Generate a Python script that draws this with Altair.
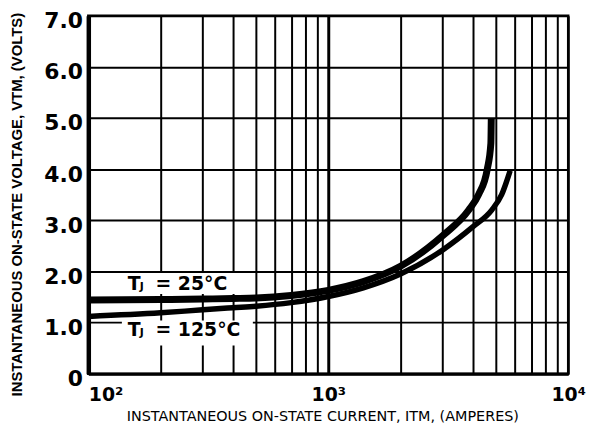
import altair as alt
import pandas as pd

# ---- data ----
current_25 = [100, 200, 300, 400, 500, 700, 1000, 1400, 2000, 3000, 3850, 4230, 4600, 4760, 4780]
voltage_25 = [1.44, 1.45, 1.46, 1.47, 1.48, 1.53, 1.63, 1.80, 2.10, 2.70, 3.20, 3.50, 4.00, 4.50, 5.00]

current_125 = [100, 200, 300, 400, 500, 700, 1000, 1400, 2000, 3000, 4000, 4800, 5280, 5730]
voltage_125 = [1.12, 1.19, 1.25, 1.29, 1.32, 1.39, 1.51, 1.68, 1.95, 2.42, 2.87, 3.20, 3.50, 3.97]

x_grid = [100, 200, 300, 400, 500, 600, 700, 800, 900,
          1000, 2000, 3000, 4000, 5000, 6000, 7000, 8000, 9000, 10000]
y_grid = [0, 0.5, 1, 1.5, 2, 2.5, 3, 3.5, 4, 4.5, 5, 5.5, 6, 6.5, 7]

label_rest = ["= 25°C", "= 125°C"]
label_x = [146, 146]
label_y = [1.63, 0.74]

box_x1 = [105, 138]
box_x2 = [485, 485]
box_y1 = [1.56, 0.55]
box_y2 = [1.97, 1.04]

x_title = "INSTANTANEOUS ON-STATE CURRENT, ITM, (AMPERES)"
y_title = "INSTANTANEOUS ON-STATE VOLTAGE, VTM, (VOLTS)"

# ---- tables ----
curves = pd.concat([
    pd.DataFrame({"I": current_25, "V": voltage_25, "Tj": "25"}),
    pd.DataFrame({"I": current_125, "V": voltage_125, "Tj": "125"}),
])
labels = pd.DataFrame({"rest": label_rest, "I": label_x, "V": label_y})
boxes = pd.DataFrame({"x1": box_x1, "x2": box_x2, "y1": box_y1, "y2": box_y2})

xscale = alt.Scale(type="log", domain=[100, 10000], nice=False)
yscale = alt.Scale(domain=[0, 7], nice=False, zero=False)

x_axis = alt.Axis(
    values=x_grid, grid=True, gridColor="black", gridOpacity=1,
    gridWidth={"condition": {"test": "datum.value == 1000", "value": 3}, "value": 2},
    ticks=False, domain=True, domainColor="black", domainWidth=3,
    labelExpr="datum.value == 100 ? '10²' : datum.value == 1000 ? '10³' : datum.value == 10000 ? '10⁴' : ''",
    labelFont="DejaVu Sans", labelFontWeight="bold", labelFontSize=19, labelColor="black",
    labelPadding=12, labelOverlap=False, labelFlush=False,
    labelAlign={"condition": {"test": "datum.value <= 100", "value": "left"}, "value": "center"},
    title=x_title, titleFont="DejaVu Sans", titleFontSize=14.5, titleFontWeight="normal",
    titleColor="black", titleX=236, titleY=43, titleBaseline="middle", titleAlign="center",
    titleAnchor="start",
)
y_axis = alt.Axis(
    values=y_grid, grid=True, gridColor="black", gridOpacity=1, gridWidth=2,
    ticks=False, domain=True, domainColor="black", domainWidth=4.5,
    labelExpr="datum.value % 1 == 0 ? (datum.value == 0 ? '0' : format(datum.value, '.1f')) : ''",
    labelFont="DejaVu Sans", labelFontWeight="bold", labelFontSize=22, labelColor="black",
    labelPadding=6, labelOverlap=False, labelFlush=False, labelOffset=5,
    labelBaseline="middle",
    title=y_title, titleFont="Liberation Sans", titleFontSize=15,
    titleFontWeight="bold", titleColor="black", titleAngle=-90, titleX=-72, titleY=190,
    titleBaseline="middle", titleAlign="center", titleAnchor="start",
)

base_x = alt.X("I:Q", scale=xscale, axis=x_axis)
base_y = alt.Y("V:Q", scale=yscale, axis=y_axis)

grid_layer = alt.Chart(curves).mark_line(opacity=0).encode(x=base_x, y=base_y)

box_layer = alt.Chart(boxes).mark_rect(color="white").encode(
    x=alt.X("x1:Q", scale=xscale), x2="x2:Q",
    y=alt.Y("y1:Q", scale=yscale), y2="y2:Q",
)

line_25 = alt.Chart(curves[curves.Tj == "25"]).mark_line(
    color="black", strokeWidth=7, interpolate="monotone", strokeCap="butt"
).encode(x=alt.X("I:Q", scale=xscale), y=alt.Y("V:Q", scale=yscale))

line_125 = alt.Chart(curves[curves.Tj == "125"]).mark_line(
    color="black", strokeWidth=5.5, interpolate="monotone", strokeCap="butt"
).encode(x=alt.X("I:Q", scale=xscale), y=alt.Y("V:Q", scale=yscale))

txt_common = dict(font="DejaVu Sans", fontWeight="bold", color="black",
                  align="left", baseline="alphabetic")
t_layer = alt.Chart(labels).mark_text(fontSize=19, **txt_common).encode(
    x=alt.X("I:Q", scale=xscale), y=alt.Y("V:Q", scale=yscale), text=alt.value("T"))
j_layer = alt.Chart(labels).mark_text(fontSize=11, dx=12, **txt_common).encode(
    x=alt.X("I:Q", scale=xscale), y=alt.Y("V:Q", scale=yscale), text=alt.value("J"))
rest_layer = alt.Chart(labels).mark_text(fontSize=19, dx=28, **txt_common).encode(
    x=alt.X("I:Q", scale=xscale), y=alt.Y("V:Q", scale=yscale), text="rest:N")

chart = alt.layer(
    grid_layer, box_layer, line_125, line_25, t_layer, j_layer, rest_layer
).properties(
    width=484, height=361,
    autosize=alt.AutoSizeParams(type="none"),
    padding={"left": 81, "top": 6, "right": 24, "bottom": 56},
).configure_view(
    stroke="black", strokeWidth=2.5
)

chart.save("out.html", embed_options={"renderer": "svg", "actions": False})
